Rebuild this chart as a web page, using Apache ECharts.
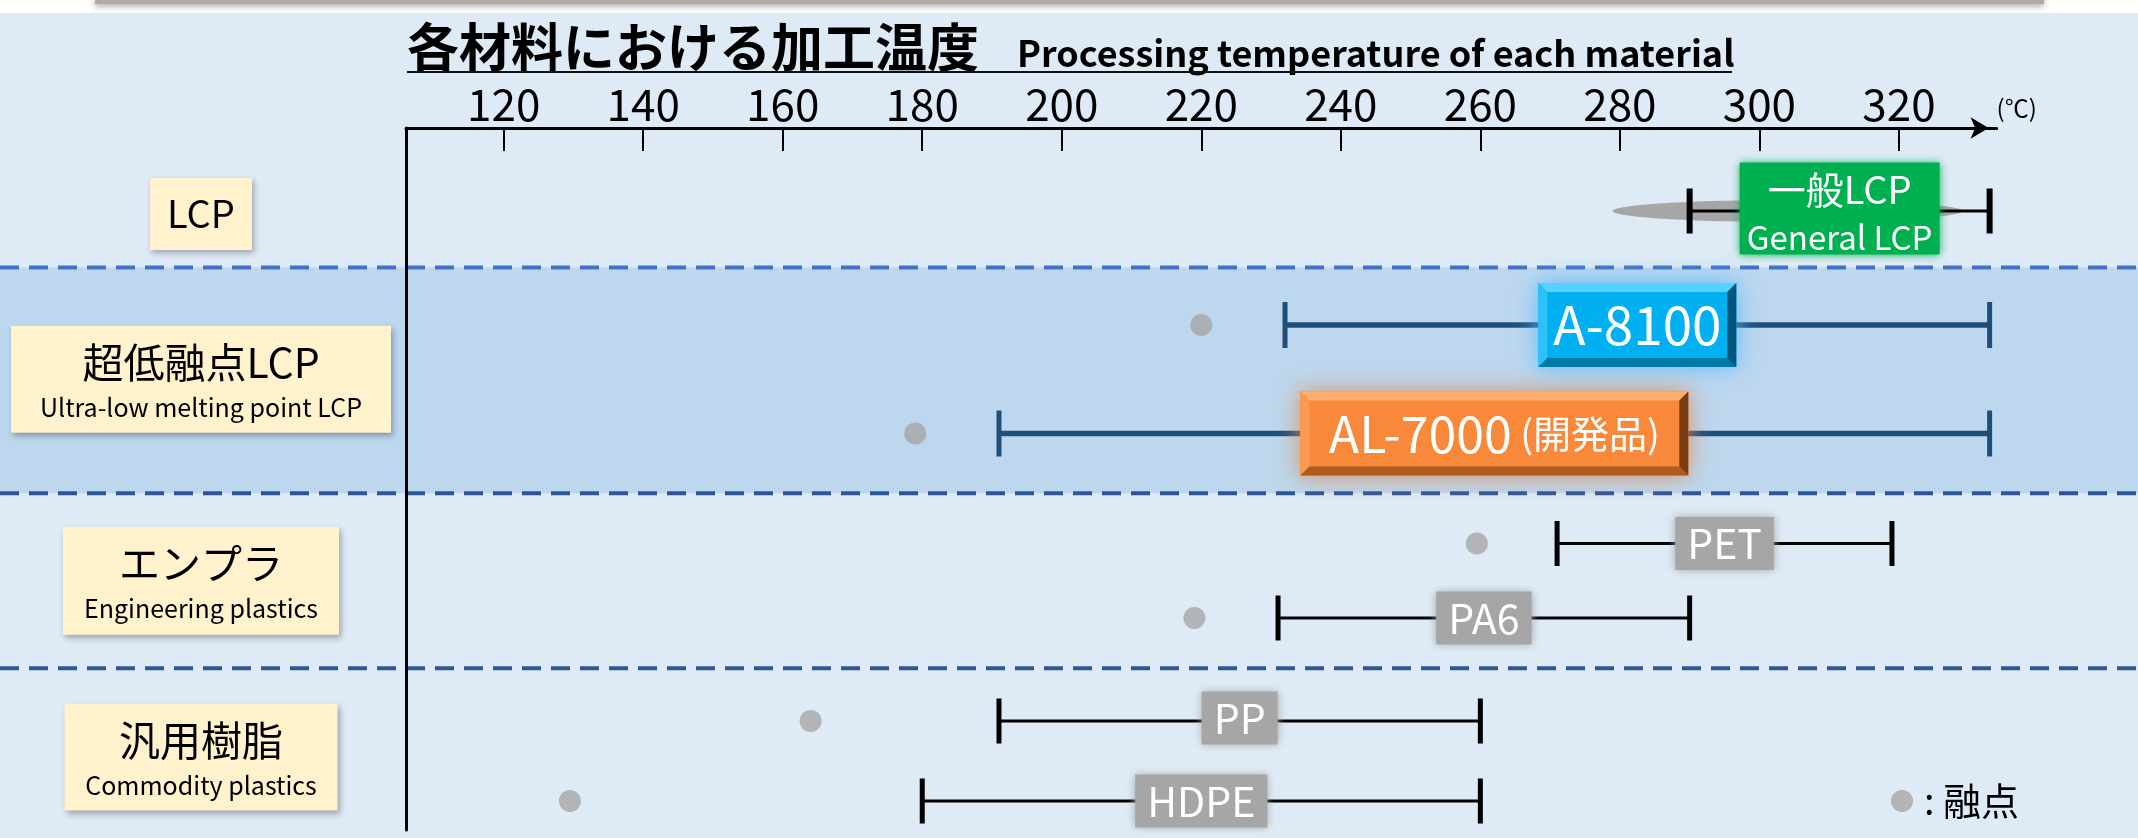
<!DOCTYPE html>
<html><head><meta charset="utf-8">
<script src="https://cdn.jsdelivr.net/npm/echarts@6/dist/echarts.min.js"></script>
<style>html,body{margin:0;padding:0;background:#fff;}#c{width:2138px;height:838px;}</style>
</head><body><div id="c"></div>
<script>
// ---------------- data ----------------
const tickValues = [120, 140, 160, 180, 200, 220, 240, 260, 280, 300, 320];
const categoriesJa = ['LCP', '超低融点LCP', 'エンプラ', '汎用樹脂'];
const categoriesEn = ['', 'Ultra-low melting point LCP', 'Engineering plastics', 'Commodity plastics'];
const materials = ['一般LCP', 'A-8100', 'AL-7000', 'PET', 'PA6', 'PP', 'HDPE'];
const materialsSub = ['General LCP', '', '(開発品)', '', '', '', ''];
const materialGroup = [0, 1, 1, 2, 2, 3, 3];
const procMin = [290, 232, 191, 271, 231, 191, 180];
const procMax = [333, 333, 333, 319, 290, 260, 260];
const meltPoint = [null, 220, 179, 259.5, 219, 164, 129.5];
const legendName = '融点';
const titleJa = '各材料における加工温度';
const titleEn = 'Processing temperature of each material';
const unitLabel = '(℃)';

// ---------------- layout / style ----------------
const W = 2138, H = 838;
const X_MIN = 106, X_MAX = 334;
const Y_SPAN = 702;
const ROW_Y = [83, 197, 305.5, 415.5, 490, 593, 673];
const SEP_Y = [139.5, 365.3, 540.3];
const FONT = '"Noto Sans CJK JP", "Noto Sans", sans-serif';
const f = (size, weight) => (weight || 'normal') + ' ' + size + 'px ' + FONT;

const BLUE = {base: '#00b0f0', top: '#55d2ff', left: '#2cc2f8', bottom: '#0079a8', right: '#00557c', glow: 'rgba(90,185,255,0.95)'};
const ORANGE = {base: '#f8893a', top: '#fdae6e', left: '#fa9a52', bottom: '#b05a1e', right: '#7a3b10', glow: 'rgba(222,140,85,0.95)'};
const ROW_STYLE = [
  {kind: 'green', color: '#000', lw: 3, capW: 6, capH: 45},
  {kind: 'bevel', color: '#1f4e79', lw: 5.5, capW: 5, capH: 46, w: 198, h: 84, fs: 53, pal: BLUE},
  {kind: 'bevel', color: '#1f4e79', lw: 5.5, capW: 5, capH: 46, w: 388, h: 84, fs: 50, fsSub: 38, pal: ORANGE},
  {kind: 'gray', color: '#000', lw: 3, capW: 5, capH: 45, dy: 0},
  {kind: 'gray', color: '#000', lw: 3, capW: 5, capH: 45, dy: 0},
  {kind: 'gray', color: '#000', lw: 3, capW: 5, capH: 45, dy: -3},
  {kind: 'gray', color: '#000', lw: 3, capW: 5, capH: 45, dy: 0}
];
const GROUP_BOX = [
  {w: 102, h: 72, dy: 3},
  {w: 380, h: 107, dy: 0},
  {w: 276, h: 108, dy: 0},
  {w: 273, h: 107, dy: -4}
];
const GROUP_CX = 201;

function bevelBox(cx, cy, w, h, c) {
  const x = cx - w / 2, y = cy - h / 2, b = 9;
  return [
    {type: 'rect', shape: {x: x, y: y, width: w, height: h}, style: {fill: c.base, shadowBlur: 22, shadowColor: c.glow}},
    {type: 'polygon', shape: {points: [[x, y], [x + w, y], [x + w - b, y + b], [x + b, y + b]]}, style: {fill: c.top}},
    {type: 'polygon', shape: {points: [[x, y], [x + b, y + b], [x + b, y + h - b], [x, y + h]]}, style: {fill: c.left}},
    {type: 'polygon', shape: {points: [[x, y + h], [x + b, y + h - b], [x + w - b, y + h - b], [x + w, y + h]]}, style: {fill: c.bottom}},
    {type: 'polygon', shape: {points: [[x + w, y], [x + w, y + h], [x + w - b, y + h - b], [x + w - b, y + b]]}, style: {fill: c.right}}
  ];
}

function renderRange(params, api) {
  const i = params.dataIndex;
  const st = ROW_STYLE[i];
  const p0 = api.coord([api.value(0), api.value(2)]);
  const p1 = api.coord([api.value(1), api.value(2)]);
  const y = p0[1];
  const cx = (p0[0] + p1[0]) / 2;
  const ch = [];
  if (st.kind === 'green') {
    ch.push({type: 'ellipse', shape: {cx: cx - 52, cy: y, rx: 175, ry: 11}, style: {fill: '#a6a6a6'}});
  }
  ch.push({type: 'line', shape: {x1: p0[0], y1: y, x2: p1[0], y2: y}, style: {stroke: st.color, lineWidth: st.lw}});
  [p0[0], p1[0]].forEach(function (px) {
    ch.push({type: 'rect', shape: {x: px - st.capW / 2, y: y - st.capH / 2, width: st.capW, height: st.capH}, style: {fill: st.color}});
  });
  const name = materials[i], sub = materialsSub[i];
  if (st.kind === 'green') {
    ch.push({type: 'rect', shape: {x: cx - 100, y: y - 2.5 - 46, width: 200, height: 92}, style: {fill: '#00b050', shadowBlur: 9, shadowColor: '#00b050'}});
    ch.push({type: 'text', x: cx, y: y - 21, style: {text: name, fill: '#fff', font: f(38), align: 'center', verticalAlign: 'middle'}});
    ch.push({type: 'text', x: cx, y: y + 26, style: {text: sub, fill: '#fff', font: f(33), align: 'center', verticalAlign: 'middle'}});
  } else if (st.kind === 'bevel') {
    bevelBox(cx, y, st.w, st.h, st.pal).forEach(function (e) { ch.push(e); });
    const txt = sub ? '{a|' + name + '}{b| ' + sub + '}' : '{a|' + name + '}';
    ch.push({type: 'text', x: cx, y: y, style: {
      text: txt, align: 'center', verticalAlign: 'middle', fill: '#fff',
      rich: {a: {font: f(st.fs), fill: '#fff'}, b: {font: f(st.fsSub || 36), fill: '#fff'}}
    }});
  } else {
    ch.push({type: 'text', x: cx, y: y + (st.dy || 0), style: {
      text: name, fill: '#fff', font: f(41), align: 'center', verticalAlign: 'middle',
      backgroundColor: '#a6a6a6', padding: [6, 12, 6, 12],
      shadowBlur: 8, shadowColor: '#a6a6a6'
    }});
  }
  return {type: 'group', children: ch};
}

function renderGroup(params, api) {
  const g = params.dataIndex;
  const b = GROUP_BOX[g];
  const cy = api.coord([X_MIN, api.value(1)])[1] + b.dy;
  const ch = [
    {type: 'rect', shape: {x: GROUP_CX - b.w / 2, y: cy - b.h / 2, width: b.w, height: b.h},
      style: {fill: '#fff2cc', shadowBlur: 6, shadowOffsetX: 2, shadowOffsetY: 3, shadowColor: 'rgba(0,0,0,0.3)'}}
  ];
  if (categoriesEn[g]) {
    ch.push({type: 'text', x: GROUP_CX, y: cy - 17, style: {text: categoriesJa[g], fill: '#000', font: f(41), align: 'center', verticalAlign: 'middle'}});
    ch.push({type: 'text', x: GROUP_CX, y: cy + 28, style: {text: categoriesEn[g], fill: '#000', font: f(25), align: 'center', verticalAlign: 'middle'}});
  } else {
    ch.push({type: 'text', x: GROUP_CX, y: cy, style: {text: categoriesJa[g], fill: '#000', font: f(38), align: 'center', verticalAlign: 'middle'}});
  }
  return {type: 'group', children: ch};
}

const groupData = categoriesJa.map(function (c, g) {
  const ys = ROW_Y.filter(function (v, i) { return materialGroup[i] === g; });
  return [X_MIN, ys.reduce(function (a, b) { return a + b; }, 0) / ys.length];
});
const rangeData = materials.map(function (m, i) { return [procMin[i], procMax[i], ROW_Y[i]]; });
const meltData = [];
meltPoint.forEach(function (v, i) { if (v != null) meltData.push([v, ROW_Y[i]]); });

const chart = echarts.init(document.getElementById('c'), null, {renderer: 'canvas', width: W, height: H});
const gridLeft = 406;
const gridRight = W - (gridLeft + 1590.6);
chart.setOption({
  backgroundColor: '#deeaf6',
  animation: false,
  grid: {left: gridLeft, right: gridRight, top: 128, bottom: 8, containLabel: false, outerBoundsMode: 'none'},
  legend: {
    data: [{name: legendName, icon: 'circle'}],
    left: 1886, top: 777, itemWidth: 22, itemHeight: 22, itemGap: 0,
    formatter: ': {name}',
    textStyle: {fontSize: 38, color: '#000', fontFamily: FONT, padding: [0, 0, 0, 6]},
    selectedMode: false
  },
  xAxis: {
    type: 'value', position: 'top', min: X_MIN, max: X_MAX,
    axisLine: {show: true, onZero: false, symbol: ['none', 'arrow'], symbolSize: [16, 18], symbolOffset: [0, -8], lineStyle: {color: '#000', width: 3}},
    axisTick: {show: true, inside: true, length: 23, customValues: tickValues, lineStyle: {color: '#000', width: 2}},
    axisLabel: {show: true, customValues: tickValues, margin: 2, fontSize: 44, color: '#000', fontFamily: FONT},
    splitLine: {show: false},
    name: unitLabel, nameLocation: 'end', nameGap: 0,
    nameTextStyle: {fontSize: 24, color: '#000', fontFamily: FONT, verticalAlign: 'bottom', padding: [0, 0, 8, 0]}
  },
  yAxis: {
    type: 'value', inverse: true, min: 0, max: Y_SPAN,
    axisLine: {show: true, onZero: false, lineStyle: {color: '#000', width: 3}},
    axisTick: {show: false}, axisLabel: {show: false}, splitLine: {show: false}
  },
  series: [
    {type: 'custom', name: 'groups', coordinateSystem: 'cartesian2d', renderItem: renderGroup, data: groupData, clip: false, z: 3, silent: true},
    {type: 'custom', name: 'range', coordinateSystem: 'cartesian2d', renderItem: renderRange, data: rangeData, clip: false, z: 4, silent: true,
      encode: {x: [0, 1], y: 2}},
    {type: 'scatter', name: legendName, data: meltData, symbol: 'circle', symbolSize: 22, itemStyle: {color: '#a6a6a6'}, z: 5, silent: true}
  ]
});

const py = function (v) { return chart.convertToPixel({yAxisIndex: 0}, v); };
const gfx = [
  {type: 'rect', z: -100, shape: {x: 0, y: 0, width: W, height: 13}, style: {fill: '#fff'}},
  {type: 'rect', z: -99, shape: {x: 95, y: -3, width: 1949, height: 7}, style: {fill: '#b0aaad', shadowBlur: 6, shadowOffsetY: 2, shadowColor: 'rgba(90,70,80,0.5)'}},
  {type: 'rect', z: -98, shape: {x: 0, y: py(SEP_Y[0]), width: W, height: py(SEP_Y[1]) - py(SEP_Y[0])}, style: {fill: '#bdd7ee'}}
];
SEP_Y.forEach(function (v, k) {
  gfx.push({type: 'line', z: -90, shape: {x1: 0, y1: py(v), x2: W, y2: py(v)},
    style: {stroke: k === 0 ? '#4472c4' : '#2f5597', lineWidth: 4, lineDash: [19, 10]}});
});
gfx.push({type: 'text', z: 10, x: 407, y: 47, style: {text: titleJa, fill: '#000', font: f(52, 'bold'), align: 'left', verticalAlign: 'middle'}});
gfx.push({type: 'text', z: 10, x: 1017, y: 53, style: {text: titleEn, fill: '#000', font: f(36, 'bold'), align: 'left', verticalAlign: 'middle'}});
gfx.push({type: 'line', z: 10, shape: {x1: 407, y1: 72, x2: 1732, y2: 72}, style: {stroke: '#111', lineWidth: 2}});
chart.setOption({graphic: gfx});
</script></body></html>
